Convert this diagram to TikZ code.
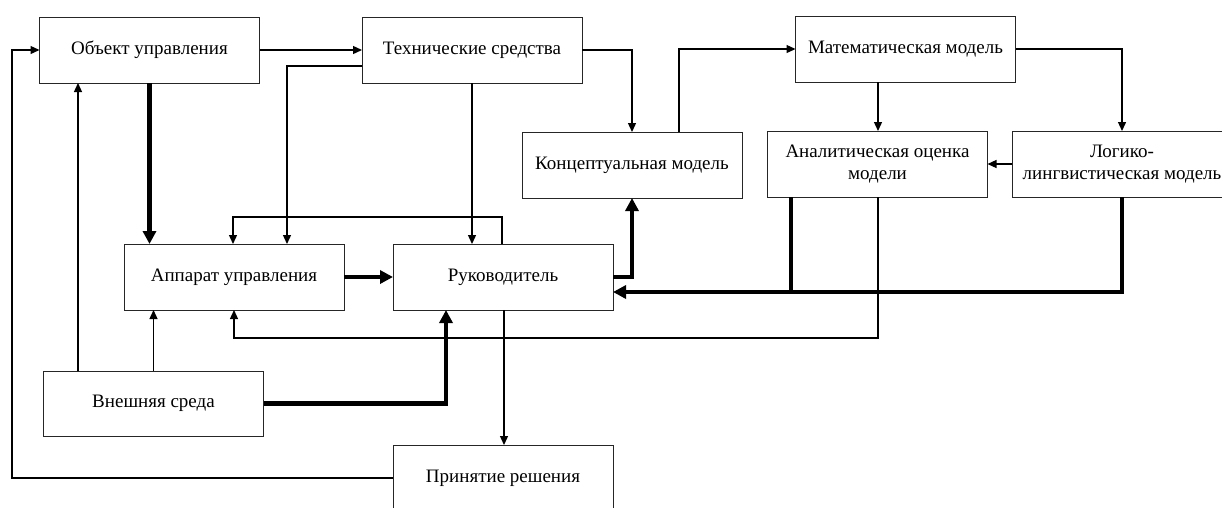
\documentclass[tikz,border=0pt]{standalone}
\usepackage{fontspec}
\setmainfont{Liberation Serif}
\usetikzlibrary{arrows.meta}
\begin{document}
\begin{tikzpicture}[x=1pt,y=-1pt,
  box/.style={draw=black!85, line width=1pt, minimum width=220pt, minimum height=66pt,
    inner sep=2pt, outer sep=0pt, align=center, font=\fontsize{19}{22}\selectfont},
  ln/.style={line width=1.3pt, -{Triangle[length=9pt,width=8pt]}},
  plain/.style={line width=1.3pt},
  heavy/.style={line width=4.5pt, -{Triangle[length=13pt,width=13pt]}},
  heavyplain/.style={line width=4.5pt},
]
\clip (0,0) rectangle (1222,507);

% blocks
\node[box] (obj)   at (149.5,50)  {Объект управления};
\node[box] (tech)  at (472,50)    {Технические средства};
\node[box] (math)  at (905.5,49)  {Математическая модель};
\node[box] (konc)  at (632,165)   {Концептуальная модель};
\node[box] (anal)  at (877.5,164) {Аналитическая оценка\\модели};
\node[box, draw=none] (logic) at (1122,164) {Логико-\\лингвистическая модель};
\draw[draw=black!85, line width=1pt] (1012,131) rectangle (1245,197);
\node[box] (app)   at (234,277)   {Аппарат управления};
\node[box] (ruk)   at (503,277)   {Руководитель};
\node[box, minimum height=65pt] (ext) at (153.5,403.5) {Внешняя среда};
\node[box] (dec)   at (503,478)   {Принятие решения};

% thin connectors
\draw[ln] (obj.east) -- (tech.west);
\draw[ln] (tech.west |- 0,66) -| (app.north -| 287,0);
\draw[ln] (tech.south) -- (tech.south |- ruk.north);
\draw[ln] (tech.east) -| (konc.north);
\draw[ln] (konc.north -| 679,0) |- (math.west);
\draw[ln] (math.south -| 878,0) -- (anal.north -| 878,0);
\draw[ln] (math.east) -| (logic.north);
\draw[ln] (logic.west -| 1012,0) -- (anal.east);
\draw[ln] (ruk.north -| 502,0) -- (502,217) -| (app.north -| 233,0);
\draw[ln] (anal.south -| 878,0) -- (878,338) -| (app.south);
\draw[ln] (ext.north -| 78,0) -- (obj.south -| 78,0);
\draw[ln] (ext.north) -- (app.south -| ext.north);
\draw[ln] (ruk.south -| 504,0) -- (dec.north -| 504,0);
\draw[ln] (dec.west) -- (12,478) -- (12,50) -- (obj.west);

% heavy connectors
\draw[heavy] (obj.south) -- (app.north -| obj.south);
\draw[heavy] (app.east) -- (ruk.west);
\draw[heavy] (ruk.east) -| (konc.south);
\draw[heavyplain] (anal.south -| 791,0) -- (791,292);
\draw[heavy] (logic.south) -- (1122,292) -- (ruk.east |- 0,292);
\draw[heavy] (ext.east) -- (446,403.5) -- (ruk.south -| 446,0);
\end{tikzpicture}
\end{document}
